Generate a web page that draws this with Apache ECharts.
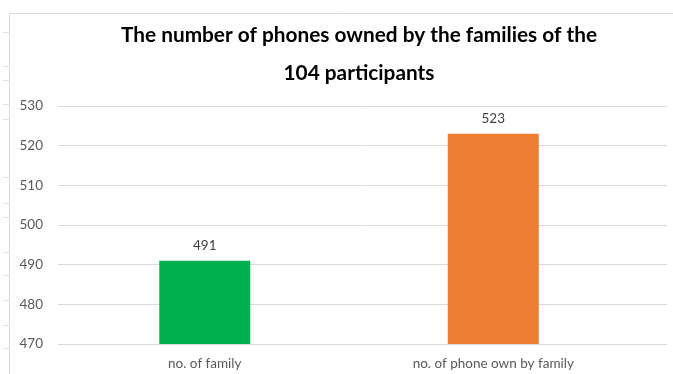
<!DOCTYPE html>
<html><head><meta charset="utf-8">
<script src="https://cdn.jsdelivr.net/npm/echarts@6/dist/echarts.min.js"></script>
<style>html,body{margin:0;padding:0;background:#fff}#c{width:673px;height:374px}</style>
</head><body><div id="c"></div>
<script>
const titleLines = ['The number of phones owned by the families of the', '104 participants'];
const categories = ['no. of family', 'no. of phone own by family'];
const values = [491, 523];
const barColors = ['#00b050', '#ed7d31'];
const yMin = 470, yMax = 530, yStep = 10;

const chart = echarts.init(document.getElementById('c'));
const gridTop = 106, gridBottom = 374 - 344;
const sideTicks = [32, 66, 80, 104, 119, 177, 203, 217, 252, 275, 300, 325, 348];
chart.setOption({
  animation: false,
  title: {
    text: titleLines.join('\n'),
    left: 354, top: 11, textAlign: 'center',
    textStyle: {fontFamily: 'Lato', fontWeight: 'bold', fontSize: 20.8, color: '#000', lineHeight: 38}
  },
  graphic: [
    {type: 'line', shape: {x1: 9.5, y1: 13.5, x2: 673, y2: 13.5}, style: {stroke: '#d9d9d9', lineWidth: 1}},
    {type: 'line', shape: {x1: 9.5, y1: 13.5, x2: 9.5, y2: 374}, style: {stroke: '#d9d9d9', lineWidth: 1}}
  ].concat(sideTicks.map(y => ({type: 'line', shape: {x1: 3, y1: y + 0.5, x2: 9, y2: y + 0.5}, style: {stroke: '#e3e3e3', lineWidth: 1}}))),
  grid: [
    {left: 58, right: 6, top: gridTop, bottom: gridBottom},
    {left: 60.5, right: 673 - 637.5, top: gridTop, bottom: gridBottom}
  ],
  xAxis: [
    {type: 'category', gridIndex: 0, data: [''], show: false},
    {type: 'category', gridIndex: 1, data: categories,
     axisLine: {show: false}, axisTick: {show: false},
     axisLabel: {fontFamily: 'Lato', fontSize: 13.5, color: '#595959', margin: 13}}
  ],
  yAxis: [
    {type: 'value', gridIndex: 0, min: yMin, max: yMax, interval: yStep,
     axisLine: {show: false}, axisTick: {show: false},
     axisLabel: {fontFamily: 'Lato', fontSize: 13.5, color: '#595959', margin: 15},
     splitLine: {lineStyle: {color: '#d9d9d9', width: 1}}},
    {type: 'value', gridIndex: 1, min: yMin, max: yMax, interval: yStep, show: false, splitLine: {show: false}}
  ],
  series: [{
    type: 'bar', xAxisIndex: 1, yAxisIndex: 1,
    data: values.map((v, i) => ({value: v, itemStyle: {color: barColors[i]}})),
    barWidth: 91,
    label: {show: true, position: 'top', distance: 8, fontFamily: 'Lato', fontSize: 13.5, color: '#404040'}
  }]
});
</script></body></html>
